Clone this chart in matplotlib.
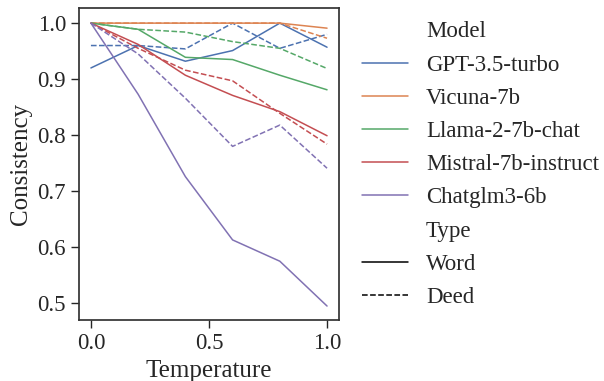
import matplotlib as mpl
mpl.use('Agg')
import matplotlib.pyplot as plt
from matplotlib.lines import Line2D
import seaborn as sns

temperature = [0.0, 0.2, 0.4, 0.6, 0.8, 1.0]
models = ['GPT-3.5-turbo', 'Vicuna-7b', 'Llama-2-7b-chat', 'Mistral-7b-instruct', 'Chatglm3-6b']

word_gpt = [0.920, 0.960, 0.932, 0.951, 1.000, 0.957]
word_vicuna = [1.000, 1.000, 1.000, 1.000, 1.000, 0.991]
word_llama = [1.000, 0.989, 0.939, 0.935, 0.907, 0.881]
word_mistral = [1.000, 0.962, 0.907, 0.871, 0.842, 0.799]
word_chatglm = [1.000, 0.873, 0.726, 0.613, 0.575, 0.495]

deed_gpt = [0.960, 0.960, 0.954, 1.000, 0.955, 0.980]
deed_vicuna = [1.000, 1.000, 1.000, 1.000, 1.000, 0.973]
deed_llama = [1.000, 0.989, 0.984, 0.967, 0.955, 0.919]
deed_mistral = [1.000, 0.955, 0.916, 0.897, 0.839, 0.784]
deed_chatglm = [1.000, 0.945, 0.866, 0.780, 0.818, 0.741]

word = [word_gpt, word_vicuna, word_llama, word_mistral, word_chatglm]
deed = [deed_gpt, deed_vicuna, deed_llama, deed_mistral, deed_chatglm]

sns.set_theme(style='ticks', font_scale=1.5)
plt.rcParams['font.family'] = ['Liberation Serif', 'DejaVu Serif']
plt.rcParams['mathtext.fontset'] = 'stix'

colors = sns.color_palette('deep', len(models))
lw = 1.1

fig = plt.figure(figsize=(6.04, 3.81), dpi=100)
ax = fig.add_axes([0.131, 0.160, 0.430, 0.819])

for i, name in enumerate(models):
    ax.plot(temperature, word[i], color=colors[i], lw=lw, ls='-')
    ax.plot(temperature, deed[i], color=colors[i], lw=lw, ls='--')

ax.set_xlim(-0.05, 1.05)
ax.set_ylim(0.470, 1.027)
ax.set_xticks([0.0, 0.5, 1.0])
ax.set_yticks([0.5, 0.6, 0.7, 0.8, 0.9, 1.0])
ax.set_xlabel('Temperature')
ax.set_ylabel('Consistency')
ax.tick_params(width=1.0)
for spine in ax.spines.values():
    spine.set_color('0.2')

handles, labels = [], []
handles.append(Line2D([], [], color='none'))
labels.append('Model')
for i, name in enumerate(models):
    handles.append(Line2D([], [], color=colors[i], lw=lw))
    labels.append(name)
handles.append(Line2D([], [], color='none'))
labels.append('Type')
handles.append(Line2D([], [], color='black', lw=lw, ls='-'))
labels.append('Word')
handles.append(Line2D([], [], color='black', lw=lw, ls='--'))
labels.append('Deed')

fig.legend(handles, labels, loc='upper left', bbox_to_anchor=(0.565, 0.998),
           frameon=False, handlelength=2.0, labelspacing=0.53)

fig.savefig('out.png', dpi=100)
